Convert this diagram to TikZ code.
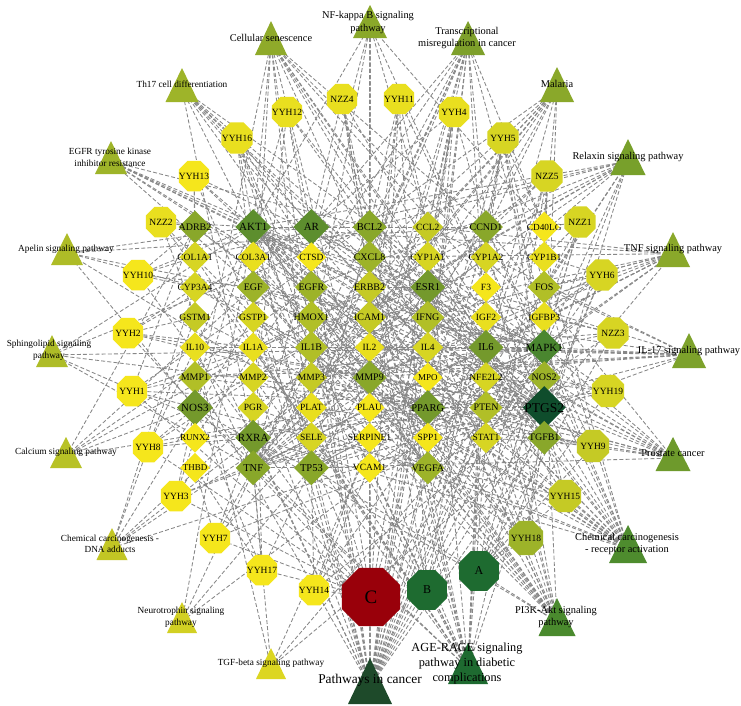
\documentclass[tikz,border=0pt]{standalone}
\usepackage{fontspec}
\setmainfont{Liberation Serif}
\usetikzlibrary{shapes.geometric}
\pgfdeclarelayer{back}
\pgfdeclarelayer{bg}
\pgfsetlayers{back,bg,main}
\definecolor{g1}{HTML}{F5E61C}
\definecolor{g2}{HTML}{E9DF1F}
\definecolor{g3}{HTML}{D7D523}
\definecolor{g4}{HTML}{C5CA25}
\definecolor{g5}{HTML}{B1BF27}
\definecolor{g6}{HTML}{9DB329}
\definecolor{g7}{HTML}{89A72A}
\definecolor{g8}{HTML}{74992C}
\definecolor{g9}{HTML}{5D8E2E}
\definecolor{g10}{HTML}{4A862F}
\definecolor{gdark}{HTML}{0F4D2C}
\definecolor{herbC}{HTML}{99000A}
\definecolor{herbAB}{HTML}{1E6B30}
\definecolor{t1}{HTML}{8FAA2A}
\definecolor{t2}{HTML}{8AA82A}
\definecolor{t3}{HTML}{7EA02B}
\definecolor{t5}{HTML}{78A02B}
\definecolor{t7}{HTML}{7DA22B}
\definecolor{t8}{HTML}{6E9A2C}
\definecolor{t9}{HTML}{4E8C2E}
\definecolor{t10}{HTML}{4A8A2E}
\definecolor{t11}{HTML}{1E6A30}
\definecolor{t12}{HTML}{1E4A2A}
\definecolor{t13}{HTML}{DCD622}
\definecolor{t14}{HTML}{D2D023}
\definecolor{t15}{HTML}{C2C624}
\definecolor{t16}{HTML}{B8C226}
\definecolor{t17}{HTML}{AEBC27}
\definecolor{t19}{HTML}{9EB429}
\newcommand\ptri[6]{%
  \fill[#6] (#2,#3) -- ({#2+#4},{#3+#5}) -- ({#2-#4},{#3+#5}) -- cycle;
  \coordinate (#1) at (#2,{#3+0.62*#5});}
\begin{document}
\begin{tikzpicture}[x=1pt,y=-1pt,
  edge/.style={draw=black!47, line width=0.85pt, dash pattern=on 4pt off 2.2pt},
  gene/.style={diamond, aspect=1, inner sep=0pt, minimum width=#1, minimum height=#1},
  oct/.style={regular polygon, regular polygon sides=8, inner sep=0pt, minimum size=#1},
  otext/.style={inner sep=0pt, font=\fontsize{9.5}{10}\selectfont},
  plab/.style={align=center, inner sep=0pt, font=\fontsize{10.4}{12.5}\selectfont},
  slab/.style={align=center, inner sep=0pt, font=\fontsize{9.3}{11.5}\selectfont}]
\useasboundingbox (0,0) rectangle (741,705);
\begin{pgfonlayer}{back}
\fill[white] (0,0) rectangle (741,705);
\end{pgfonlayer}
% ---------- targets (diamonds) ----------
\foreach \n/\c/\r/\col/\s/\f in {
ADRB2/1/1/g7/33/10, AKT1/2/1/g9/36/11, AR/3/1/g9/36/11, BCL2/4/1/g7/34/10.5, CCL2/5/1/g4/31/9.5, CCND1/6/1/g7/34/10, CD40LG/7/1/g1/31/9.3,
COL1A1/1/2/g3/31/9.5, COL3A1/2/2/g2/31/9.5, CTSD/3/2/g1/30/9.5, CXCL8/4/2/g6/33/10, CYP1A1/5/2/g3/31/9.5, CYP1A2/6/2/g3/31/9.5, CYP1B1/7/2/g2/31/9.5,
CYP3A4/1/3/g3/31/9.5, EGF/2/3/g6/33/10, EGFR/3/3/g6/33/10, ERBB2/4/3/g4/33/10, ESR1/5/3/g8/35/10.5, F3/6/3/g1/30/9.5, FOS/7/3/g5/33/10,
GSTM1/1/4/g4/31/9.5, GSTP1/2/4/g3/31/9.5, HMOX1/3/4/g5/33/10, ICAM1/4/4/g4/33/10, IFNG/5/4/g5/33/10, IGF2/6/4/g2/31/9.5, IGFBP3/7/4/g2/31/9.5,
IL10/1/5/g2/30/9.5, IL1A/2/5/g2/30/9.5, IL1B/3/5/g5/33/10, IL2/4/5/g2/30/9.5, IL4/5/5/g3/31/9.5, IL6/6/5/g8/35/10.5, MAPK1/7/5/g10/36/11,
MMP1/1/6/g5/33/10, MMP2/2/6/g3/31/9.5, MMP3/3/6/g4/31/9.5, MMP9/4/6/g7/34/10, MPO/5/6/g1/30/9, NFE2L2/6/6/g3/31/9.5, NOS2/7/6/g6/33/10,
NOS3/1/7/g8/36/11, PGR/2/7/g3/31/9.5, PLAT/3/7/g2/31/9.5, PLAU/4/7/g1/30/9.5, PPARG/5/7/g8/35/10.5, PTEN/6/7/g5/33/10, PTGS2/7/7/gdark/43/13.5,
RUNX2/1/8/g1/30/9, RXRA/2/8/g8/36/11, SELE/3/8/g3/31/9.5, SERPINE1/4/8/g1/30/9.5, SPP1/5/8/g1/30/9.5, STAT1/6/8/g3/31/9.5, TGFB1/7/8/g7/34/10,
THBD/1/9/g1/30/9, TNF/2/9/g7/35/10.5, TP53/3/9/g7/35/10.5, VCAM1/4/9/g1/30/9.5, VEGFA/5/9/g6/33/10}
{
  \node[gene=\s, fill=\col] (\n) at ({195+58.2*(\c-1)},{227+30.1*(\r-1)}) {};
  \node[inner sep=0pt, font=\fontsize{\f}{\f}\selectfont] (t\n) at (\n) {\n};
}
% ---------- compounds (octagons) ----------
\foreach \n/\x/\y/\col/\s in {
NZZ4/342/99/g2/33, YYH12/287/112/g2/33, YYH16/237/138/g2/34, YYH13/194/176/g1/33, NZZ2/161/222/g2/33,
YYH11/399/99/g2/33, YYH4/454/112/g2/33, YYH5/503/138/g3/34, NZZ5/547/176/g3/34, NZZ1/580/222/g3/34,
YYH10/138/275/g1/33, YYH2/128/333/g1/33, YYH1/132/391/g1/33, YYH8/148/447/g1/33, YYH3/176/496/g1/33,
YYH7/215/538/g1/33, YYH17/262/570/g1/33, YYH14/314/590/g1/33,
YYH6/602/275/g3/34, NZZ3/613/333/g3/34, YYH19/608/391/g3/35, YYH9/593/446/g4/35, YYH15/565/496/g4/35, YYH18/526/538/g6/37}
{
  \node[oct=\s, fill=\col] (\n) at (\x,\y) {};
  \node[otext] (t\n) at (\n) {\n};
}
% ---------- herbs ----------
\node[oct=63, fill=herbC] (C) at (371,597) {};
\node[inner sep=0pt, font=\fontsize{19}{19}\selectfont] (tC) at (C) {C};
\node[oct=43, fill=herbAB] (B) at (427,590) {};
\node[inner sep=0pt, font=\fontsize{12}{12}\selectfont] (tB) at (B) {B};
\node[oct=43, fill=herbAB] (A) at (479,571) {};
\node[inner sep=0pt, font=\fontsize{12}{12}\selectfont] (tA) at (A) {A};
% ---------- pathways (triangles) ----------
\ptri{P1}{271}{21}{16}{34}{t1}
\ptri{P2}{370}{5}{17}{33}{t2}
\ptri{P3}{468}{21}{17}{34}{t3}
\ptri{P4}{557}{67}{17}{35}{t2}
\ptri{P5}{628}{139}{17.5}{36}{t5}
\ptri{P6}{673}{232}{17}{35}{t2}
\ptri{P7}{689}{333}{17}{35}{t7}
\ptri{P8}{673}{437}{17.5}{34}{t8}
\ptri{P9}{628}{525}{19}{38}{t9}
\ptri{P10}{557}{598}{18.5}{38}{t10}
\ptri{P11}{468}{643}{20}{41}{t11}
\ptri{P12}{370}{658}{22}{46}{t12}
\ptri{P13}{271}{648}{15}{31}{t13}
\ptri{P14}{182}{602}{15}{31}{t14}
\ptri{P15}{112}{528}{15.5}{32}{t15}
\ptri{P16}{66}{437}{16}{31}{t16}
\ptri{P17}{52}{335}{16}{32}{t17}
\ptri{P18}{67}{233}{16}{32}{t17}
\ptri{P19}{111}{141}{16}{33}{t19}
\ptri{P20}{182}{68}{16.5}{34}{t19}
% pathway labels
\node[plab] (L1) at (271,38) {Cellular senescence};
\node[plab] (L2) at (368,22.5) {NF-kappa B signaling\\pathway};
\node[plab] (L3) at (467,38) {Transcriptional\\misregulation in cancer};
\node[plab] (L4) at (557,84) {Malaria};
\node[plab] (L5) at (628,157) {Relaxin signaling pathway};
\node[plab] (L6) at (673,249) {TNF signaling pathway};
\node[plab] (L7) at (689,351) {IL-17 signaling pathway};
\node[plab] (L8) at (673,453) {Prostate cancer};
\node[plab] (L9) at (627,544) {Chemical carcinogenesis\\- receptor activation};
\node[plab] (L10) at (556,617) {PI3K-Akt signaling\\pathway};
\node[align=center, inner sep=0pt, font=\fontsize{12.3}{15}\selectfont] (L11) at (467,664) {AGE-RAGE signaling\\pathway in diabetic\\complications};
\node[inner sep=0pt, font=\fontsize{13.4}{15}\selectfont] (L12) at (370,680) {Pathways in cancer};
\node[slab] (L13) at (271,663) {TGF-beta signaling pathway};
\node[slab] (L14) at (181,617.5) {Neurotrophin signaling\\pathway};
\node[slab] (L15) at (110,544) {Chemical carcinogenesis -\\DNA adducts};
\node[slab] (L16) at (66,452) {Calcium signaling pathway};
\node[slab] (L17) at (49,350.5) {Sphingolipid signaling\\pathway};
\node[slab] (L18) at (66,249) {Apelin signaling pathway};
\node[slab] (L19) at (110,157.5) {EGFR tyrosine kinase\\inhibitor resistance};
\node[slab] (L20) at (182,84) {Th17 cell differentiation};
% ---------- connectors ----------
\begin{pgfonlayer}{bg}
\foreach \a/\l in {
P1/{AKT1,CCND1,MAPK1,TP53,TGFB1,SERPINE1,CXCL8,IL6,IL1A,IL1B,PTEN,ESR1,NOS3,IGFBP3},
P2/{BCL2,CXCL8,ICAM1,VCAM1,PTGS2,TNF,IL1B,CD40LG,PLAU,CCL2,AKT1,ERBB2},
P3/{CCND1,MMP3,MMP9,PPARG,IGFBP3,PLAT,RUNX2,CD40LG,CXCL8,IL6,BCL2,PLAU,MPO,AR,CCL2},
P4/{ICAM1,VCAM1,SELE,TNF,IL6,IL10,IFNG,CXCL8,CCL2,TGFB1,IL1B,CD40LG},
P5/{AKT1,EGFR,MAPK1,MMP1,MMP2,MMP9,NOS2,NOS3,VEGFA,COL1A1,COL3A1,TGFB1,FOS,MMP3},
P6/{AKT1,MAPK1,FOS,PTGS2,ICAM1,VCAM1,SELE,IL6,IL1B,CCL2,MMP3,MMP9,CXCL8,TNF},
P7/{MAPK1,FOS,PTGS2,IL6,IL1B,CCL2,MMP1,MMP3,MMP9,CXCL8,IFNG,IL4,TNF},
P8/{AKT1,AR,BCL2,CCND1,EGFR,ERBB2,MAPK1,PTEN,TP53,MMP3,MMP9,PLAT,PLAU,EGF},
P9/{AKT1,AR,BCL2,CCND1,CYP1A1,CYP1A2,CYP1B1,CYP3A4,EGFR,ERBB2,ESR1,FOS,MAPK1,PGR,PPARG,RXRA,VEGFA,PTGS2,ADRB2,EGF,GSTM1,GSTP1},
P10/{AKT1,BCL2,CCND1,COL1A1,EGF,EGFR,ERBB2,IL2,IL4,IL6,MAPK1,NOS3,PTEN,SPP1,TP53,VEGFA,IGF2,IFNG,COL3A1},
P11/{AKT1,BCL2,CCL2,COL1A1,COL3A1,CXCL8,ICAM1,IL1A,IL1B,IL6,MAPK1,MMP2,NOS3,SELE,SERPINE1,STAT1,TGFB1,TNF,VCAM1,VEGFA,F3,CCND1},
P12/{AKT1,AR,BCL2,CCND1,CXCL8,EGF,EGFR,ERBB2,ESR1,FOS,GSTM1,GSTP1,HMOX1,IFNG,IL2,IL4,IL6,MAPK1,MMP1,MMP2,MMP9,NFE2L2,NOS2,PPARG,PTEN,PTGS2,RXRA,STAT1,TGFB1,TP53,VEGFA,CCL2,IGF2,VCAM1},
P13/{TGFB1,TNF,IFNG,MAPK1,IL10},
P14/{AKT1,BCL2,MAPK1,TP53},
P15/{CYP1A1,CYP1A2,CYP1B1,CYP3A4,GSTM1,GSTP1,PTGS2},
P16/{ADRB2,EGF,EGFR,ERBB2,NOS2,NOS3},
P17/{AKT1,BCL2,MAPK1,TNF,TP53,PTEN},
P18/{AKT1,MAPK1,NOS3,NOS2,SERPINE1,CCND1},
P19/{AKT1,BCL2,EGF,EGFR,ERBB2,IL6,MAPK1,PTEN},
P20/{IL2,IL4,IL6,IL1B,IFNG,STAT1,TGFB1,RXRA,MAPK1},
YYH1/{ADRB2,MMP1,NOS3,IL10,PTGS2,ESR1},
YYH2/{CYP3A4,GSTM1,IL1A,PPARG,AR,PTGS2},
YYH3/{THBD,RUNX2,TNF,NOS3,MAPK1},
YYH7/{TNF,RXRA,THBD,SELE,PTGS2},
YYH8/{RUNX2,NOS3,RXRA,MMP2,AKT1},
YYH10/{COL1A1,CYP3A4,ADRB2,EGF,AKT1},
YYH13/{ADRB2,AKT1,COL1A1,EGFR,ESR1},
YYH16/{AKT1,AR,CTSD,EGF,HMOX1,IL1B},
YYH12/{AKT1,AR,BCL2,ESR1,PGR},
NZZ4/{BCL2,CXCL8,AR,ERBB2,IL6},
YYH11/{BCL2,CCL2,ICAM1,MMP9,PTGS2},
YYH4/{CCL2,CCND1,CYP1A1,AR,ESR1,PPARG},
YYH5/{CCND1,CD40LG,CYP1A2,FOS,MAPK1,PTGS2},
NZZ5/{CD40LG,CYP1B1,CCND1,IL6,ESR1,NOS2},
NZZ2/{ADRB2,COL1A1,AKT1,GSTM1},
NZZ1/{CD40LG,CYP1B1,FOS,IGFBP3,MAPK1},
YYH6/{CYP1B1,FOS,IGFBP3,IL6,PTGS2,MMP9},
NZZ3/{IGFBP3,MAPK1,NOS2,IL4,ESR1},
YYH19/{NOS2,PTGS2,MAPK1,NFE2L2,PTEN},
YYH9/{TGFB1,PTGS2,STAT1,PPARG,MAPK1,AKT1},
YYH15/{TGFB1,VEGFA,PTGS2,SPP1,ESR1},
YYH18/{VEGFA,TGFB1,PTGS2,STAT1,MMP9,AKT1},
YYH14/{VCAM1,TP53,SERPINE1,PTGS2,IL6},
YYH17/{TNF,TP53,THBD,AKT1,NOS3},
C/{YYH1,YYH2,YYH3,YYH4,YYH5,YYH6,YYH7,YYH8,YYH10,YYH11,YYH12,YYH13,YYH14,YYH16,YYH17},
B/{NZZ2,NZZ4,YYH5,YYH11,NZZ5},
A/{YYH9,YYH15,YYH18,YYH19,YYH6,NZZ3,NZZ1,NZZ5},
AKT1/{PTGS2,MAPK1,TNF,IL6,TP53,VEGFA,ESR1,PPARG,EGFR,CCND1,NOS3,PTEN,STAT1,MMP9},
PTGS2/{TNF,IL6,IL1B,TP53,VEGFA,PPARG,ESR1,NFE2L2,HMOX1,MMP9,CCL2,CXCL8,ICAM1,IL10,EGFR,BCL2,AR,RUNX2},
MAPK1/{TNF,TP53,ESR1,EGFR,EGF,CCND1,IL6,MMP1,MMP3,STAT1},
TNF/{IL6,IL1B,IL10,CXCL8,CCL2,ICAM1,VCAM1,SELE,MMP9,NOS2,IFNG,IL2,IL4},
IL6/{IL1B,CXCL8,CCL2,STAT1,IL10,IL4,VEGFA,TGFB1},
TP53/{BCL2,CCND1,PTEN,ESR1,AR,IGFBP3,SERPINE1},
VEGFA/{EGFR,ERBB2,EGF,HMOX1,NOS3,MMP2,PLAU},
ESR1/{AR,PGR,CYP1A1,CYP1B1,ERBB2,RXRA,IGF2},
PPARG/{RXRA,CYP3A4,ADRB2,MMP1,GSTP1}}
{
  \foreach \b in \l { \draw[edge] (\a) -- (\b); }
}
\end{pgfonlayer}
\end{tikzpicture}
\end{document}
